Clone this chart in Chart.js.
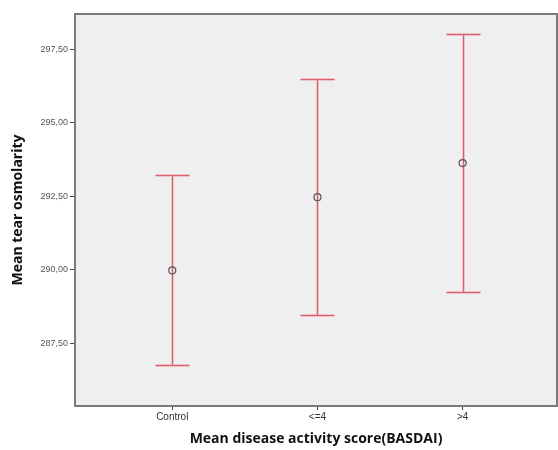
<!DOCTYPE html>
<html>
<head>
<meta charset="utf-8">
<script src="https://cdn.jsdelivr.net/npm/chart.js@4/dist/chart.umd.min.js"></script>
<style>
  html, body { margin: 0; padding: 0; background: #fff; }
</style>
</head>
<body>
<canvas id="chart" width="558" height="450"></canvas>
<script>
// error bar plot: mean tear osmolarity by BASDAI group
const groups = ["Control", "<=4", ">4"];
const means = [289.98, 292.47, 293.63];
const lower = [286.75, 288.45, 289.25];
const upper = [293.22, 296.5, 298.02];
const yTicks = [287.5, 290, 292.5, 295, 297.5];

const barColor = "#d9606b";
const haloColor = "rgba(240, 140, 150, 0.45)";

function strokeBars(chart, color, width) {
    const { ctx, scales: { x, y } } = chart;
    ctx.strokeStyle = color;
    ctx.lineWidth = width;
    groups.forEach((g, i) => {
        const px = Math.round(x.getPixelForValue(i)) + 0.5;
        const top = Math.round(y.getPixelForValue(upper[i])) + 0.5;
        const bot = Math.round(y.getPixelForValue(lower[i])) + 0.5;
        ctx.beginPath();
        ctx.moveTo(px, top);
        ctx.lineTo(px, bot);
        ctx.moveTo(px - 17, top);
        ctx.lineTo(px + 17, top);
        ctx.moveTo(px - 17, bot);
        ctx.lineTo(px + 17, bot);
        ctx.stroke();
    });
}

const errorBars = {
    id: "errorBars",
    beforeDraw(chart) {
        const { ctx, chartArea: a } = chart;
        ctx.save();
        ctx.fillStyle = "#efefef";
        ctx.fillRect(a.left, a.top, a.right - a.left, a.bottom - a.top);
        ctx.restore();
    },
    beforeDatasetsDraw(chart) {
        chart.ctx.save();
        strokeBars(chart, haloColor, 3);
        strokeBars(chart, barColor, 1);
        chart.ctx.restore();
    },
    afterDraw(chart) {
        const { ctx, chartArea: a } = chart;
        ctx.save();
        ctx.strokeStyle = "#7a7a7a";
        ctx.lineWidth = 2;
        ctx.strokeRect(a.left, a.top, a.right - a.left, a.bottom - a.top);
        ctx.restore();
    }
};

new Chart(document.getElementById("chart"), {
    type: "scatter",
    data: {
        datasets: [{
            data: groups.map((g, i) => ({ x: i, y: means[i] })),
            pointRadius: 3.5,
            pointBorderWidth: 1.2,
            pointBorderColor: "#555",
            pointBackgroundColor: "rgba(0,0,0,0)"
        }]
    },
    options: {
        responsive: false,
        animation: false,
        layout: { autoPadding: false, padding: { top: 14, right: 1, left: 0, bottom: 0 } },
        plugins: { legend: { display: false }, tooltip: { enabled: false } },
        scales: {
            x: {
                type: "linear",
                min: -0.67,
                max: 2.65,
                afterBuildTicks: (axis) => { axis.ticks = groups.map((g, i) => ({ value: i })); },
                afterFit: (axis) => {
                    axis.height = 44;
                    axis.paddingLeft = 0;
                    axis.paddingRight = 0;
                },
                grid: { drawOnChartArea: false, color: "#444", tickLength: 4 },
                border: { display: false },
                ticks: {
                    padding: 1,
                    color: "#333",
                    font: { family: "Liberation Sans", size: 10 },
                    callback: (v) => groups[v]
                },
                title: {
                    display: true,
                    text: "Mean disease activity score(BASDAI)",
                    color: "#111",
                    font: { family: "Open Sans", size: 14, weight: "bold" },
                    padding: { top: 0, bottom: 3 }
                }
            },
            y: {
                min: 285.37,
                max: 298.7,
                afterBuildTicks: (axis) => { axis.ticks = yTicks.map(v => ({ value: v })); },
                afterFit: (axis) => { axis.width = 75; },
                grid: { drawOnChartArea: false, color: "#444", tickLength: 5 },
                border: { display: false },
                ticks: {
                    padding: 2,
                    color: "#555",
                    font: { family: "Liberation Sans", size: 9 },
                    callback: (v) => v.toFixed(2).replace(".", ",")
                },
                title: {
                    display: true,
                    text: "Mean tear osmolarity",
                    color: "#111",
                    font: { family: "Open Sans", size: 14, weight: "bold" },
                    padding: { top: 10, bottom: 0 }
                }
            }
        }
    },
    plugins: [errorBars]
});
</script>
</body>
</html>
